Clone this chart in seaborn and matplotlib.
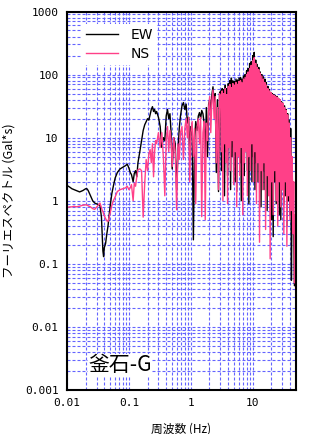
import matplotlib
matplotlib.use("Agg")
import matplotlib.pyplot as plt
from matplotlib.ticker import LogLocator, NullFormatter
import pandas as pd
import seaborn as sns

# spectrum (Hz, Gal*s)
freq = [
    0.010, 0.011, 0.012, 0.013, 0.014, 0.016, 0.018, 0.020, 0.021, 0.022,
    0.024, 0.026, 0.028, 0.031, 0.034, 0.036, 0.037, 0.038, 0.039, 0.040,
    0.042, 0.044, 0.046, 0.048, 0.050, 0.053, 0.056, 0.060, 0.065, 0.072,
    0.080, 0.088, 0.094, 0.100, 0.105, 0.110, 0.117, 0.122, 0.128, 0.134,
    0.140,
    0.15, 0.16, 0.17, 0.18, 0.19, 0.20, 0.21, 0.22, 0.23, 0.24,
    0.25, 0.26, 0.27, 0.28, 0.30, 0.32, 0.34, 0.36, 0.38, 0.40,
    0.42, 0.44, 0.46, 0.48, 0.50, 0.53, 0.56, 0.59, 0.62, 0.65,
    0.68, 0.72, 0.76, 0.80, 0.84, 0.88, 0.92, 0.96, 1.00, 1.05,
    1.10, 1.15, 1.20, 1.26, 1.32, 1.38, 1.44, 1.50, 1.57, 1.64,
    1.71, 1.78, 1.86, 1.94, 2.02, 2.10, 2.19, 2.28, 2.38, 2.48,
    2.58, 2.69, 2.80, 2.91,
    3.03, 3.12, 3.21, 3.30, 3.40, 3.50, 3.60, 3.70, 3.81, 3.92,
    4.03, 4.15, 4.27, 4.39, 4.52, 4.65, 4.78, 4.92, 5.06, 5.21,
    5.36, 5.51, 5.67, 5.83, 6.00, 6.17, 6.35, 6.53, 6.72, 6.91,
    7.11, 7.31, 7.52, 7.74, 7.96, 8.19, 8.42, 8.66, 8.91, 9.17,
    9.43, 9.70, 9.98, 10.27, 10.56, 10.86, 11.17, 11.49, 11.82, 12.16,
    12.51, 12.87, 13.24, 13.62, 14.01, 14.41, 14.82, 15.24, 15.68, 16.13,
    16.59, 17.07, 17.56, 18.06, 18.58, 19.11, 19.66, 20.22, 20.80, 21.40,
    22.01, 22.64, 23.29, 23.96, 24.65, 25.36, 26.09, 26.84, 27.61, 28.40,
    29.21, 30.05, 30.91, 31.80, 32.71, 33.65, 34.62, 35.61, 36.63, 37.68,
    38.76, 39.87, 41.01, 42.19, 43.40, 44.64, 45.92, 47.24, 48.60, 50.0,
]

ew = [
    1.75, 1.65, 1.55, 1.5, 1.45, 1.38, 1.45, 1.55, 1.55, 1.45,
    1.2, 1.0, 0.92, 0.88, 0.85, 0.55, 0.3, 0.16, 0.13, 0.18,
    0.21, 0.3, 0.4, 0.6, 0.85, 1.3, 1.7, 2.3, 2.8, 3.2,
    3.4, 3.6, 3.8, 3.3, 2.8, 2.6, 2.0, 2.7, 3.0, 2.4,
    4.0,
    6, 9, 13, 16, 18, 20, 19, 23, 28, 31,
    26, 28, 24, 26, 21, 15, 7, 10, 9, 22,
    28, 20, 24, 12, 3.2, 10, 8, 1.5, 6, 14,
    22, 32, 36, 28, 34, 17, 21, 5.5, 15, 12,
    0.24, 9, 18, 13, 22, 25, 20, 27, 24, 17,
    5, 30, 5, 34, 40, 25, 48, 64, 35, 50,
    2.8, 40, 1.4, 51,
    55, 3, 60, 8, 58, 1.2, 68, 6, 60, 2.5,
    72, 9, 80, 1.5, 88, 5, 80, 7, 78, 2,
    85, 1.4, 82, 6, 88, 4, 90, 1.0, 85, 5,
    95, 2.5, 100, 7, 115, 3, 125, 0.9, 150, 6,
    160, 2, 200, 5, 225, 1.5, 170, 4, 145, 2,
    130, 5, 110, 0.8, 100, 3, 92, 1.5, 85, 4,
    75, 0.7, 65, 3, 58, 1.5, 52, 0.5, 50, 0.27,
    48, 2, 46, 0.9, 45, 2.5, 42, 0.6, 40, 0.5,
    37, 1.8, 35, 0.9, 32, 1.2, 28, 0.4, 24, 1.0,
    19, 0.6, 14, 0.055, 3, 0.5, 0.3, 0.045, 0.05, 0.04,
]

ns = [
    0.78, 0.80, 0.80, 0.82, 0.80, 0.82, 0.85, 0.86, 0.86, 0.83,
    0.80, 0.75, 0.73, 0.82, 0.92, 0.78, 0.70, 0.68, 0.62, 0.58,
    0.52, 0.48, 0.47, 0.55, 0.65, 0.85, 1.0, 1.15, 1.4, 1.5,
    1.55, 1.6, 1.7, 1.5, 1.6, 1.8, 1.0, 1.9, 1.7, 2.4,
    3.1,
    3.2, 3.0, 0.55, 1.9, 4.5, 3.0, 5.5, 6.5, 4.0, 8.0,
    2.4, 6.0, 9.0, 8.0, 12, 7.0, 12, 5.0, 1.2, 9,
    15, 6, 13, 9, 3.5, 10, 6, 0.72, 8, 4.5,
    12, 15, 4.5, 14, 20, 10, 21, 2.0, 12, 18,
    5, 14, 0.9, 15, 20, 8, 21, 0.56, 12, 18,
    0.5, 17, 9, 30, 45, 12, 40, 57, 20, 45,
    4, 30, 1.5, 50,
    45, 6, 55, 1.0, 50, 8, 60, 4, 48, 0.9,
    65, 7, 70, 3, 62, 9, 72, 1.8, 68, 6,
    75, 0.8, 70, 5, 78, 2.5, 80, 7, 74, 0.6,
    85, 4, 90, 6, 100, 1.2, 110, 5, 125, 3,
    140, 8, 165, 2, 185, 6, 150, 0.9, 130, 4,
    120, 0.22, 105, 3, 95, 1.5, 85, 4, 75, 0.35,
    68, 2.5, 60, 1.2, 55, 0.12, 52, 2, 48, 0.6,
    47, 3, 45, 1, 44, 0.4, 42, 2, 40, 0.8,
    36, 1.5, 35, 0.3, 30, 2, 27, 0.19, 23, 1.2,
    17, 0.5, 10, 0.7, 5, 0.3, 2, 0.05, 0.6, 0.004,
]

xticks = [0.01, 0.1, 1, 10]
xticklabels = ["0.01", "0.1", "1", "10"]
yticks = [0.001, 0.01, 0.1, 1, 10, 100, 1000]
yticklabels = ["0.001", "0.01", "0.1", "1", "10", "100", "1000"]

df = pd.DataFrame({"freq": freq, "EW": ew, "NS": ns})
long_df = df.melt(id_vars="freq", var_name="comp", value_name="amp")

fig = plt.figure(figsize=(3.24, 4.34), dpi=100)
ax = fig.add_axes([0.2068, 0.1014, 0.7068, 0.8721])

sns.lineplot(data=long_df, x="freq", y="amp", hue="comp",
             palette={"EW": "black", "NS": "#ff4088"},
             estimator=None, sort=False, linewidth=1.0, ax=ax)

ax.set_xscale("log")
ax.set_yscale("log")
ax.set_xlim(0.01, 50)
ax.set_ylim(0.001, 1000)

ax.xaxis.set_minor_locator(LogLocator(base=10, subs=range(2, 10), numticks=20))
ax.yaxis.set_minor_locator(LogLocator(base=10, subs=range(2, 10), numticks=20))
ax.xaxis.set_minor_formatter(NullFormatter())
ax.yaxis.set_minor_formatter(NullFormatter())
ax.set_xticks(xticks)
ax.set_xticklabels(xticklabels, family="DejaVu Sans Mono", fontsize=8)
ax.set_yticks(yticks)
ax.set_yticklabels(yticklabels, family="DejaVu Sans Mono", fontsize=8)
ax.tick_params(which="both", length=0, pad=6)

ax.set_axisbelow(True)
ax.grid(which="both", color="#6464ff", linewidth=0.8, linestyle=(0, (2.7, 1.8)))
for s in ax.spines.values():
    s.set_color("black")
    s.set_linewidth(1.5)

ax.set_xlabel("周波数 (Hz)", family=["Noto Sans CJK JP", "DejaVu Sans"], fontsize=8.5)
ax.xaxis.set_label_coords(0.5, -0.085)
ax.set_ylabel("フーリエスペクトル (Gal*s)", family=["Noto Sans CJK JP", "DejaVu Sans"], fontsize=9)
ax.yaxis.set_label_coords(-0.225, 0.5)

handles, labels = ax.get_legend_handles_labels()
leg = ax.legend(handles, labels, loc="upper left", bbox_to_anchor=(0.065, 0.967),
                borderaxespad=0, frameon=True, fancybox=False, framealpha=1,
                handlelength=2.3, handletextpad=0.9, labelspacing=0.35,
                borderpad=0.3, prop={"family": "DejaVu Sans", "size": 10})
leg.get_frame().set_edgecolor("none")
leg.get_frame().set_facecolor("white")

ax.text(0.092, 0.066, "釜石-G", transform=ax.transAxes, ha="left", va="center",
        family=["Noto Sans CJK JP", "DejaVu Sans"], fontsize=15,
        bbox=dict(facecolor="white", edgecolor="none", pad=0))

fig.savefig("out.png", dpi=100)
